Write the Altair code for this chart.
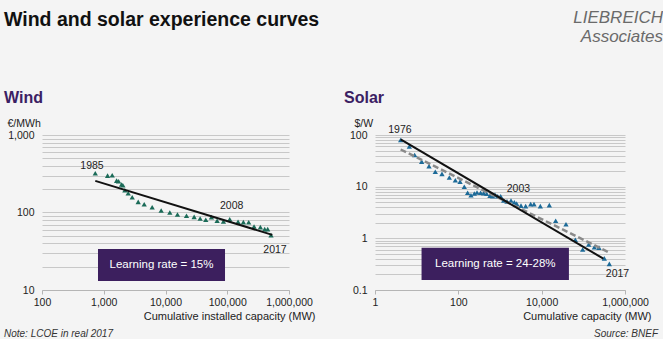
import altair as alt
import pandas as pd

# ---------------- data ----------------
wind_cap = [729, 1153, 1371, 1614, 1738, 1942, 2041, 2199, 2489, 2890, 3614, 4519, 6085,
            8508, 11750, 15630, 21870, 29100, 36390, 44900, 55480, 68550, 86760, 109700,
            149600, 182500, 222600, 271600, 343800, 403800, 451700, 511600]
wind_lcoe = [321, 299, 303, 258, 253, 230, 225, 194, 177, 157, 137, 128, 117, 106, 100, 94,
             90.6, 87.9, 83.7, 80.5, 87.1, 78.2, 76.6, 82, 75.9, 75.2, 75, 66, 64.7, 61, 61, 51]
wind_fit_cap = [729, 537000]
wind_fit_lcoe = [256, 51.5]

solar_cap = [4.13, 6.67, 8.95, 13.2, 19.8, 28, 40.5, 60.8, 84.7, 110, 139, 167, 201, 242, 281,
             343, 405, 479, 575, 667, 759, 879, 1038, 1225, 1472, 1837, 2208, 2512, 3191, 4130,
             5445, 6546, 9290, 15280, 21680, 38370, 64270, 96400, 134300, 183700, 237700,
             319200, 420700]
solar_price = [79.8, 60, 41, 30.5, 25, 19.4, 17.7, 15, 13.3, 12.5, 10, 7.6, 6.8, 7.4, 7.7, 7.6,
               7.5, 7.3, 6.7, 6.5, 7.0, 6.5, 6.5, 5.4, 5.2, 5.4, 5.0, 4.7, 4.3, 4.2, 4.6, 4.6,
               4.2, 4.4, 2.19, 1.88, 0.94, 0.61, 0.76, 0.67, 0.66, 0.41, 0.32]
solar_fit_cap = [4.13, 302000]
solar_fit_price = [82, 0.405]
solar_fit2_cap = [4.13, 420700]
solar_fit2_price = [52.4, 0.53]

wind_year_labels = ["1985", "2008", "2017"]
wind_year_cap = [645, 118000, 593000]
wind_year_val = [394, 120, 33]
solar_year_labels = ["1976", "2003", "2017"]
solar_year_cap = [3.97, 2767, 661000]
solar_year_val = [125, 9.14, 0.204]

wind_box = {"cap": 807, "cap2": 92000, "val": 33.8, "val2": 13.1}
solar_box = {"cap": 13.1, "cap2": 45100, "val": 0.656, "val2": 0.156}
wind_rate = "Learning rate = 15%"
solar_rate = "Learning rate = 24-28%"

wind_x_ticks = [100, 1000, 10000, 100000, 1000000]
solar_x_ticks = [1, 100, 10000, 1000000]
wind_y_grid = [10, 20, 30, 40, 50, 60, 70, 80, 90, 100, 200, 300, 400, 500, 600, 700, 800, 900, 1000]
wind_y_labels = [10, 100, 1000]
solar_y_grid = [0.1, 0.2, 0.3, 0.4, 0.5, 0.6, 0.7, 0.8, 0.9, 1, 2, 3, 4, 5, 6, 7, 8, 9,
                10, 20, 30, 40, 50, 60, 70, 80, 90, 100]
solar_y_labels = [0.1, 1, 10, 100]

FONT = "Liberation Sans"
PURPLE = "#3c1f5e"
HEAD = "#3b2063"


def fixed_text(text, x, y, size=11, weight="normal", style="normal", color="#222",
               align="left", baseline="middle"):
    return alt.Chart(pd.DataFrame({"t": [text]})).mark_text(
        fontSize=size, fontWeight=weight, fontStyle=style, color=color,
        align=align, baseline=baseline, font=FONT
    ).encode(x=alt.value(x), y=alt.value(y), text="t:N")


def panel(cap, val, color, fits, labels, box, rate, xdom, ydom, xticks, ygrid, ylabels,
          xtitle, xtitle_x, ytitle, ytitle_x, width, height):
    xs = alt.Scale(type="log", domain=xdom, nice=False)
    ys = alt.Scale(type="log", domain=ydom, nice=False)
    lab_list = ", ".join(str(v) for v in ylabels)
    x_enc = alt.X("cap:Q", scale=xs, axis=alt.Axis(
        values=xticks, format=",", grid=False, domainColor="#b5b5b5", tickColor="#b5b5b5",
        tickSize=4, labelFontSize=10.5, labelColor="#222", labelPadding=3, labelFont=FONT,
        labelFlush=False,
        title=xtitle, titleFontSize=11, titleFontWeight="normal", titleColor="#222",
        titleFont=FONT, titleAlign="right", titleX=xtitle_x, titleY=26,
        titleBaseline="middle"))
    y_enc = alt.Y("val:Q", scale=ys, axis=alt.Axis(
        values=ygrid, grid=True, gridColor="#c8c8c8", gridWidth=1, domain=False,
        ticks=False, labelPadding=8, labelFontSize=10.5, labelColor="#222", labelFont=FONT,
        labelExpr="indexof([" + lab_list + "], datum.value) >= 0 ? format(datum.value, ',') : ''",
        title=ytitle, titleAngle=0, titleAlign="left", titleX=ytitle_x, titleY=-12,
        titleBaseline="middle", titleFontSize=10.5, titleFontWeight="normal",
        titleColor="#222", titleFont=FONT))

    pts = alt.Chart(pd.DataFrame({"cap": cap, "val": val})).mark_point(
        shape="triangle-up", filled=True, size=28, opacity=1, color=color
    ).encode(x=x_enc, y=y_enc)
    layers = [pts]
    for fc, fv, col, dash in fits:
        kw = {"color": col, "strokeWidth": 2}
        if dash:
            kw["strokeDash"] = [6, 3]
            kw["strokeWidth"] = 2.5
        layers.append(alt.Chart(pd.DataFrame({"cap": fc, "val": fv})).mark_line(**kw)
                      .encode(x=x_enc, y=y_enc))
    lt, lc, lv = labels
    layers.append(alt.Chart(pd.DataFrame({"cap": lc, "val": lv, "t": lt})).mark_text(
        fontSize=10.5, color="#222", font=FONT, baseline="middle").encode(
        x=x_enc, y=y_enc, text="t:N"))
    layers.append(alt.Chart(pd.DataFrame([box])).mark_rect(color=PURPLE).encode(
        x=x_enc, x2="cap2:Q", y=y_enc, y2="val2:Q"))
    cx = (box["cap"] * box["cap2"]) ** 0.5
    cy = (box["val"] * box["val2"]) ** 0.5
    layers.append(alt.Chart(pd.DataFrame({"cap": [cx], "val": [cy], "t": [rate]})).mark_text(
        fontSize=11.5, color="white", font=FONT, baseline="middle").encode(
        x=x_enc, y=y_enc, text="t:N"))
    return layers


wind_layers = panel(
    wind_cap, wind_lcoe, "#1b6b58",
    [(wind_fit_cap, wind_fit_lcoe, "#111", False)],
    (wind_year_labels, wind_year_cap, wind_year_val), wind_box, wind_rate,
    [100, 1000000], [10, 1000], wind_x_ticks, wind_y_grid, wind_y_labels,
    "Cumulative installed capacity (MW)", 273, "€/MWh", -35, 247, 155)
wind_layers += [
    fixed_text("Wind and solar experience curves", -38, -124, size=19.5, weight="bold",
               color="#111", baseline="top"),
    fixed_text("Wind", -38, -37, size=16, weight="bold", color=HEAD),
    fixed_text("Note: LCOE in real 2017", -38, 199, size=10, style="italic", color="#333"),
]
wind = alt.layer(*wind_layers).properties(width=247, height=155)

solar_layers = panel(
    solar_cap, solar_price, "#1c6a98",
    [(solar_fit2_cap, solar_fit2_price, "#8a8a8a", True),
     (solar_fit_cap, solar_fit_price, "#111", False)],
    (solar_year_labels, solar_year_cap, solar_year_val), solar_box, solar_rate,
    [1, 1000000], [0.1, 100], solar_x_ticks, solar_y_grid, solar_y_labels,
    "Cumulative capacity (MW)", 276, "$/W", -21, 250, 155)
solar_layers += [
    fixed_text("LIEBREICH", 288, -125, size=17, style="italic", color="#6a6a6a",
               align="right", baseline="top"),
    fixed_text("Associates", 288, -106, size=17, style="italic", color="#6a6a6a",
               align="right", baseline="top"),
    fixed_text("Solar", -31, -37, size=16, weight="bold", color=HEAD),
    fixed_text("Source: BNEF", 283, 199, size=10, style="italic", color="#333",
               align="right"),
]
solar = alt.layer(*solar_layers).properties(width=250, height=155)

chart = alt.hconcat(wind, solar, spacing=86, bounds="flush").properties(
    padding={"left": 4, "top": 9, "right": 0, "bottom": 0},
    background="#f4f4f4",
).configure_view(stroke=None)

chart.save("out.html", embed_options={"renderer": "svg", "actions": False})
